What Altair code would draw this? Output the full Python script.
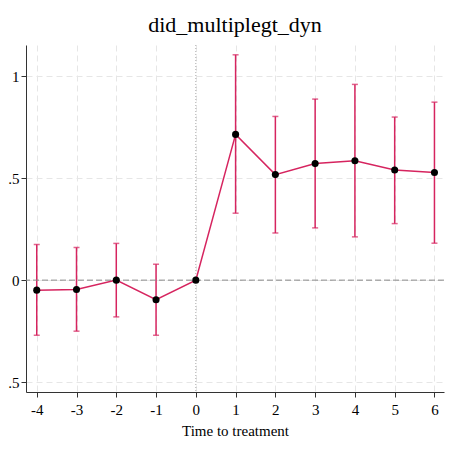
import altair as alt
import pandas as pd

# event-study estimates
periods = [-4, -3, -2, -1, 0, 1, 2, 3, 4, 5, 6]
estimates = [-0.049, -0.046, 0.0, -0.096, 0.0, 0.714, 0.517, 0.571, 0.585, 0.540, 0.527]
ci_low = [-0.27, -0.25, -0.18, -0.27, None, 0.328, 0.231, 0.256, 0.212, 0.277, 0.181]
ci_high = [0.175, 0.16, 0.18, 0.078, None, 1.104, 0.802, 0.887, 0.959, 0.799, 0.872]

y_ticks = [-0.5, 0, 0.5, 1]

df = pd.DataFrame({"t": periods, "est": estimates, "lo": ci_low, "hi": ci_high})
ci = df.dropna()

crimson = "#d6245f"
serif = "Liberation Serif, Times New Roman, serif"

x_enc = alt.X("t:Q", title="Time to treatment",
              scale=alt.Scale(domain=[-4.27, 6.24], nice=False, zero=False),
              axis=alt.Axis(values=periods, labelExpr="'' + datum.value",
                            labelPadding=5, titlePadding=6))
y_scale = alt.Scale(domain=[-0.548, 1.152], nice=False, zero=False)
y_axis = alt.Axis(values=y_ticks, labelPadding=2,
                  labelExpr="datum.value == 1 ? '1' : datum.value == 0 ? '0' : '.5'")

base = alt.Chart(df)

# reference lines at zero
hline = alt.Chart(pd.DataFrame({"y": [0]})).mark_rule(
    color="#888888", strokeDash=[6, 3], strokeWidth=1).encode(y=alt.Y("y:Q", scale=y_scale))
vline = alt.Chart(pd.DataFrame({"x": [0]})).mark_rule(
    color="#aaaaaa", strokeDash=[1, 2], strokeWidth=1).encode(x="x:Q")

bars = alt.Chart(ci).mark_rule(color=crimson, strokeWidth=1.5).encode(
    x=x_enc, y=alt.Y("lo:Q", scale=y_scale, axis=y_axis, title=None), y2="hi:Q")
caps_lo = alt.Chart(ci).mark_tick(color=crimson, orient="horizontal", size=6, thickness=1.5).encode(
    x="t:Q", y="lo:Q")
caps_hi = alt.Chart(ci).mark_tick(color=crimson, orient="horizontal", size=6, thickness=1.5).encode(
    x="t:Q", y="hi:Q")

line = base.mark_line(color=crimson, strokeWidth=1.5).encode(x="t:Q", y="est:Q")
points = base.mark_circle(color="black", size=50, opacity=1).encode(x="t:Q", y="est:Q")

chart = alt.layer(bars, vline, hline, caps_lo, caps_hi, line, points).properties(
    width=418, height=347,
    title=alt.TitleParams("did_multiplegt_dyn", fontSize=22, font=serif,
                          fontWeight="normal", anchor="middle", offset=8, color="black"),
    autosize=alt.AutoSizeParams(type="none"),
    padding={"left": 18, "top": 37, "right": 8, "bottom": 60},
).configure_view(stroke=None).configure_axis(
    labelFont=serif, titleFont=serif, labelFontSize=15, titleFontSize=15,
    titleFontWeight="normal", labelColor="black", titleColor="black",
    domainColor="#333333", tickColor="#333333", tickSize=5,
    gridColor="#e6e6e6", gridDash=[6, 4], gridWidth=1,
)

chart.save("out.html", embed_options={"renderer": "svg", "actions": False})
